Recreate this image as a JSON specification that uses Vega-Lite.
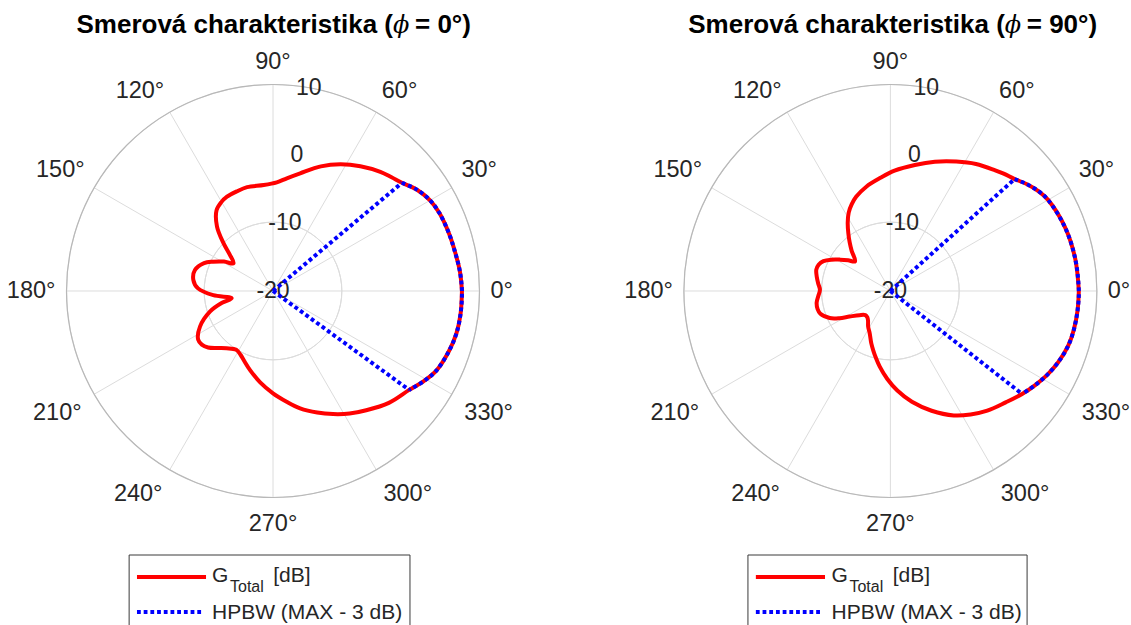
{
  "$schema": "https://vega.github.io/schema/vega-lite/v6.json",
  "padding": 0,
  "spacing": 71.5,
  "bounds": "flush",
  "background": "white",
  "config": {"view": {"stroke": null}, "font": "Liberation Sans"},
  "datasets": {
    "g0": [
      {"a":0,"g":7.45},{"a":6,"g":7.3},{"a":12,"g":7.05},{"a":18,"g":6.9},{"a":25,"g":6.7},{"a":30,"g":6.35},{"a":35,"g":5.6},{"a":40,"g":4.45},{"a":44,"g":3.85},{"a":48,"g":3.3},{"a":55,"g":2.13},{"a":62,"g":0.86},{"a":69,"g":-0.6},{"a":77,"g":-2.45},{"a":83,"g":-3.5},{"a":88,"g":-4.2},{"a":95,"g":-4.55},{"a":104,"g":-4.45},{"a":110,"g":-4.6},{"a":116,"g":-4.75},{"a":120,"g":-5.05},{"a":125,"g":-5.7},{"a":131,"g":-7.6},{"a":136,"g":-10.0},{"a":140,"g":-11.8},{"a":145,"g":-13.0},{"a":149,"g":-11.7},{"a":154,"g":-10.3},{"a":158,"g":-9.2},{"a":165,"g":-8.26},{"a":172,"g":-8.31},{"a":178,"g":-9.1},{"a":184,"g":-11.3},{"a":190,"g":-13.9},{"a":193,"g":-12.4},{"a":198,"g":-10.4},{"a":206,"g":-8.2},{"a":213,"g":-7.03},{"a":217,"g":-7.05},{"a":221,"g":-7.5},{"a":226,"g":-8.5},{"a":231,"g":-9.3},{"a":238,"g":-9.93},{"a":243,"g":-9.6},{"a":247,"g":-9.1},{"a":254,"g":-8.0},{"a":262,"g":-6.6},{"a":270,"g":-5.14},{"a":277,"g":-3.8},{"a":283,"g":-2.5},{"a":290,"g":-1.2},{"a":296,"g":-0.1},{"a":302,"g":1.0},{"a":308,"g":2.0},{"a":316,"g":3.4},{"a":324,"g":4.45},{"a":329,"g":5.5},{"a":334,"g":6.4},{"a":341,"g":7.0},{"a":347,"g":7.35},{"a":353,"g":7.45},{"a":360,"g":7.45}
    ],
    "g90": [
      {"a":0,"g":7.39},{"a":10,"g":7.27},{"a":20,"g":7.02},{"a":30,"g":6.47},{"a":34,"g":5.95},{"a":38,"g":5.2},{"a":42,"g":4.3},{"a":46,"g":3.7},{"a":49,"g":3.23},{"a":56,"g":2.25},{"a":63,"g":1.1},{"a":71,"g":-0.14},{"a":79,"g":-1.35},{"a":88,"g":-2.51},{"a":95,"g":-3.5},{"a":103,"g":-4.45},{"a":110,"g":-5.44},{"a":114,"g":-6.2},{"a":118,"g":-7.1},{"a":122,"g":-8.3},{"a":126,"g":-9.6},{"a":130,"g":-10.8},{"a":134,"g":-11.9},{"a":140,"g":-13.3},{"a":144,"g":-12.4},{"a":148,"g":-11.4},{"a":152,"g":-10.3},{"a":156,"g":-9.35},{"a":160,"g":-8.9},{"a":164,"g":-8.8},{"a":169,"g":-9.1},{"a":174,"g":-9.45},{"a":179,"g":-9.76},{"a":184,"g":-9.5},{"a":189,"g":-9.15},{"a":194,"g":-9.1},{"a":198,"g":-9.3},{"a":204,"g":-10.35},{"a":208,"g":-11.6},{"a":212,"g":-13.0},{"a":218,"g":-14.3},{"a":224,"g":-14.95},{"a":229,"g":-14.9},{"a":233,"g":-14.6},{"a":238,"g":-13.9},{"a":244,"g":-13.15},{"a":250,"g":-11.9},{"a":254,"g":-11.0},{"a":258,"g":-10.0},{"a":262,"g":-8.9},{"a":268,"g":-7.2},{"a":274,"g":-5.5},{"a":281,"g":-3.6},{"a":289,"g":-1.6},{"a":297,"g":0.3},{"a":303,"g":1.4},{"a":309,"g":2.38},{"a":316,"g":3.3},{"a":322,"g":4.3},{"a":327,"g":5.1},{"a":332,"g":5.86},{"a":337,"g":6.5},{"a":343,"g":7.05},{"a":348,"g":7.25},{"a":354,"g":7.35},{"a":360,"g":7.39}
    ],
    "hb0": [
      {"a":40,"g":4.45},{"a":35,"g":5.6},{"a":30,"g":6.35},{"a":25,"g":6.7},{"a":18,"g":6.9},{"a":12,"g":7.05},{"a":6,"g":7.3},{"a":0,"g":7.45},{"a":-7,"g":7.45},{"a":-13,"g":7.35},{"a":-19,"g":7.0},{"a":-26,"g":6.4},{"a":-31,"g":5.5},{"a":-36,"g":4.45}
    ],
    "hb90": [
      {"a":42,"g":4.3},{"a":38,"g":5.2},{"a":34,"g":5.95},{"a":30,"g":6.47},{"a":20,"g":7.02},{"a":10,"g":7.27},{"a":0,"g":7.39},{"a":-6,"g":7.35},{"a":-12,"g":7.25},{"a":-17,"g":7.05},{"a":-23,"g":6.5},{"a":-28,"g":5.86},{"a":-33,"g":5.1},{"a":-38,"g":4.3}
    ],
    "he0": [{"a":40,"g":4.45},{"a":-36,"g":4.45}],
    "he90": [{"a":42,"g":4.3},{"a":-38,"g":4.3}],
    "spokes": [{"a":0},{"a":30},{"a":60},{"a":90},{"a":120},{"a":150},{"a":180},{"a":210},{"a":240},{"a":270},{"a":300},{"a":330}],
    "alab": [{"a":0,"t":"0°"},{"a":30,"t":"30°"},{"a":60,"t":"60°"},{"a":90,"t":"90°"},{"a":120,"t":"120°"},{"a":150,"t":"150°"},{"a":180,"t":"180°"},{"a":210,"t":"210°"},{"a":240,"t":"240°"},{"a":270,"t":"270°"},{"a":300,"t":"300°"},{"a":330,"t":"330°"}],
    "rlab": [{"g":-20},{"g":-10},{"g":0},{"g":10}],
    "one": [{}]
  },
  "hconcat": [
    {
      "width": 546,
      "height": 625,
      "layer": [
        {"data": {"values": [{"r":10},{"r":20}]},
         "mark": {"type":"arc","filled":false,"stroke":"#dcdcdc","strokeWidth":1,"theta":0,"theta2":6.2832},
         "encoding": {
           "x": {"datum":0,"type":"quantitative","scale":{"domain":[-39.66,39.66],"nice":false,"zero":false},"axis":null},
           "y": {"datum":0,"type":"quantitative","scale":{"domain":[-48.53,42.28],"nice":false,"zero":false},"axis":null},
           "radius": {"field":"r","type":"quantitative","scale":{"type":"linear","domain":[0,30],"range":[0,206.5],"zero":true}}
         }},
        {"data": {"name":"spokes"},
         "transform": [{"calculate":"0","as":"x0"},{"calculate":"0","as":"y0"},{"calculate":"30*cos(datum.a*PI/180)","as":"x2"},{"calculate":"30*sin(datum.a*PI/180)","as":"y2"}],
         "mark": {"type":"rule","color":"#dcdcdc","strokeWidth":1},
         "encoding": {
           "x": {"field":"x0","type":"quantitative","scale":{"domain":[-39.66,39.66],"nice":false,"zero":false},"axis":null},
           "y": {"field":"y0","type":"quantitative","scale":{"domain":[-48.53,42.28],"nice":false,"zero":false},"axis":null},
           "x2": {"field":"x2"},
           "y2": {"field":"y2"}
         }},
        {"data": {"values": [{"r":30}]},
         "mark": {"type":"arc","filled":false,"stroke":"#b8b8b8","strokeWidth":1.2,"theta":0,"theta2":6.2832},
         "encoding": {
           "x": {"datum":0,"type":"quantitative","scale":{"domain":[-39.66,39.66],"nice":false,"zero":false},"axis":null},
           "y": {"datum":0,"type":"quantitative","scale":{"domain":[-48.53,42.28],"nice":false,"zero":false},"axis":null},
           "radius": {"field":"r","type":"quantitative","scale":{"type":"linear","domain":[0,30],"range":[0,206.5],"zero":true}}
         }},
        {"data": {"name":"alab"},
         "transform": [{"calculate":"(sin(datum.a*PI/180) < -0.2 ? 32.1 : 31.6)","as":"lr"},{"calculate":"datum.lr*cos(datum.a*PI/180)","as":"x"},{"calculate":"datum.lr*sin(datum.a*PI/180)","as":"y"}],
         "mark": {"type":"text","fontSize":23.5,"color":"#262626",
                  "align":{"expr":"cos(datum.a*PI/180) > 0.2 ? 'left' : (cos(datum.a*PI/180) < -0.2 ? 'right' : 'center')"},
                  "baseline":{"expr":"sin(datum.a*PI/180) > 0.2 ? 'bottom' : (sin(datum.a*PI/180) < -0.2 ? 'top' : 'middle')"}},
         "encoding": {
           "x": {"field":"x","type":"quantitative","scale":{"domain":[-39.66,39.66],"nice":false,"zero":false},"axis":null},
           "y": {"field":"y","type":"quantitative","scale":{"domain":[-48.53,42.28],"nice":false,"zero":false},"axis":null},
           "text": {"field":"t"}
         }},
        {"data": {"name":"rlab"},
         "transform": [{"calculate":"(datum.g+20)*cos(80*PI/180)","as":"x"},{"calculate":"(datum.g+20)*sin(80*PI/180)","as":"y"}],
         "mark": {"type":"text","fontSize":23,"color":"#262626","align":"center","baseline":"middle"},
         "encoding": {
           "x": {"field":"x","type":"quantitative","scale":{"domain":[-39.66,39.66],"nice":false,"zero":false},"axis":null},
           "y": {"field":"y","type":"quantitative","scale":{"domain":[-48.53,42.28],"nice":false,"zero":false},"axis":null},
           "text": {"field":"g"}
         }},
        {"data": {"name":"g0"},
         "transform": [{"calculate":"(datum.g+20)*cos(datum.a*PI/180)","as":"x"},{"calculate":"(datum.g+20)*sin(datum.a*PI/180)","as":"y"}],
         "mark": {"type":"line","interpolate":"catmull-rom","color":"#ff0000","strokeWidth":4},
         "encoding": {
           "x": {"field":"x","type":"quantitative","scale":{"domain":[-39.66,39.66],"nice":false,"zero":false},"axis":null},
           "y": {"field":"y","type":"quantitative","scale":{"domain":[-48.53,42.28],"nice":false,"zero":false},"axis":null},
           "order": {"field":"a","type":"quantitative"}
         }},
        {"data": {"name":"hb0"},
         "transform": [{"calculate":"(datum.g+20)*cos(datum.a*PI/180)","as":"x"},{"calculate":"(datum.g+20)*sin(datum.a*PI/180)","as":"y"}],
         "mark": {"type":"line","interpolate":"catmull-rom","color":"#0000ff","strokeWidth":4,"strokeDash":[3.8,2.9]},
         "encoding": {
           "x": {"field":"x","type":"quantitative","scale":{"domain":[-39.66,39.66],"nice":false,"zero":false},"axis":null},
           "y": {"field":"y","type":"quantitative","scale":{"domain":[-48.53,42.28],"nice":false,"zero":false},"axis":null},
           "order": {"field":"a","type":"quantitative","sort":"descending"}
         }},
        {"data": {"name":"he0"},
         "transform": [{"calculate":"0","as":"x0"},{"calculate":"0","as":"y0"},{"calculate":"(datum.g+20)*cos(datum.a*PI/180)","as":"x2"},{"calculate":"(datum.g+20)*sin(datum.a*PI/180)","as":"y2"}],
         "mark": {"type":"rule","color":"#0000ff","strokeWidth":4,"strokeDash":[3.8,2.9]},
         "encoding": {
           "x": {"field":"x0","type":"quantitative","scale":{"domain":[-39.66,39.66],"nice":false,"zero":false},"axis":null},
           "y": {"field":"y0","type":"quantitative","scale":{"domain":[-48.53,42.28],"nice":false,"zero":false},"axis":null},
           "x2": {"field":"x2"},
           "y2": {"field":"y2"}
         }},
        {"data": {"name":"one"},
         "transform": [{"calculate":"-20.9","as":"lx"},{"calculate":"19.9","as":"lx2"},{"calculate":"-38.36","as":"ly"},{"calculate":"-48.53","as":"ly2"}],
         "mark": {"type":"rect","fill":"white","strokeWidth":0},
         "encoding": {
           "x": {"field":"lx","type":"quantitative","scale":{"domain":[-39.66,39.66],"nice":false,"zero":false},"axis":null},
           "x2": {"field":"lx2"},
           "y": {"field":"ly","type":"quantitative","scale":{"domain":[-48.53,42.28],"nice":false,"zero":false},"axis":null},
           "y2": {"field":"ly2"}
         }},
        {"data": {"name":"one"},
         "transform": [{"calculate":"-20.9","as":"lx"},{"calculate":"19.9","as":"lx2"},{"calculate":"-38.36","as":"ly"}],
         "mark": {"type":"rule","color":"#3a3a3a","strokeWidth":1},
         "encoding": {
           "x": {"field":"lx","type":"quantitative","scale":{"domain":[-39.66,39.66],"nice":false,"zero":false},"axis":null},
           "x2": {"field":"lx2"},
           "y": {"field":"ly","type":"quantitative","scale":{"domain":[-48.53,42.28],"nice":false,"zero":false},"axis":null}
         }},
        {"data": {"name":"one"},
         "transform": [{"calculate":"-20.9","as":"lx"},{"calculate":"-38.36","as":"ly"},{"calculate":"-48.53","as":"ly2"}],
         "mark": {"type":"rule","color":"#3a3a3a","strokeWidth":1},
         "encoding": {
           "x": {"field":"lx","type":"quantitative","scale":{"domain":[-39.66,39.66],"nice":false,"zero":false},"axis":null},
           "y": {"field":"ly","type":"quantitative","scale":{"domain":[-48.53,42.28],"nice":false,"zero":false},"axis":null},
           "y2": {"field":"ly2"}
         }},
        {"data": {"name":"one"},
         "transform": [{"calculate":"19.9","as":"lx"},{"calculate":"-38.36","as":"ly"},{"calculate":"-48.53","as":"ly2"}],
         "mark": {"type":"rule","color":"#3a3a3a","strokeWidth":1},
         "encoding": {
           "x": {"field":"lx","type":"quantitative","scale":{"domain":[-39.66,39.66],"nice":false,"zero":false},"axis":null},
           "y": {"field":"ly","type":"quantitative","scale":{"domain":[-48.53,42.28],"nice":false,"zero":false},"axis":null},
           "y2": {"field":"ly2"}
         }},
        {"data": {"name":"one"},
         "transform": [{"calculate":"-19.76","as":"lx"},{"calculate":"-9.73","as":"lx2"},{"calculate":"-41.55","as":"ly"}],
         "mark": {"type":"rule","color":"#ff0000","strokeWidth":4},
         "encoding": {
           "x": {"field":"lx","type":"quantitative","scale":{"domain":[-39.66,39.66],"nice":false,"zero":false},"axis":null},
           "x2": {"field":"lx2"},
           "y": {"field":"ly","type":"quantitative","scale":{"domain":[-48.53,42.28],"nice":false,"zero":false},"axis":null}
         }},
        {"data": {"name":"one"},
         "transform": [{"calculate":"-19.76","as":"lx"},{"calculate":"-10.17","as":"lx2"},{"calculate":"-46.64","as":"ly"}],
         "mark": {"type":"rule","color":"#0000ff","strokeWidth":4,"strokeDash":[3.8,2.9]},
         "encoding": {
           "x": {"field":"lx","type":"quantitative","scale":{"domain":[-39.66,39.66],"nice":false,"zero":false},"axis":null},
           "x2": {"field":"lx2"},
           "y": {"field":"ly","type":"quantitative","scale":{"domain":[-48.53,42.28],"nice":false,"zero":false},"axis":null}
         }},
        {"data": {"name":"one"},
         "mark": {"type":"text","text":"G","fontSize":21,"color":"#262626","align":"left","baseline":"alphabetic"},
         "encoding": {
           "x": {"datum":-8.86,"type":"quantitative","scale":{"domain":[-39.66,39.66],"nice":false,"zero":false},"axis":null},
           "y": {"datum":-42.28,"type":"quantitative","scale":{"domain":[-48.53,42.28],"nice":false,"zero":false},"axis":null}
         }},
        {"data": {"name":"one"},
         "mark": {"type":"text","text":"Total","fontSize":16,"color":"#262626","align":"left","baseline":"alphabetic"},
         "encoding": {
           "x": {"datum":-6.25,"type":"quantitative","scale":{"domain":[-39.66,39.66],"nice":false,"zero":false},"axis":null},
           "y": {"datum":-43.73,"type":"quantitative","scale":{"domain":[-48.53,42.28],"nice":false,"zero":false},"axis":null}
         }},
        {"data": {"name":"one"},
         "mark": {"type":"text","text":"[dB]","fontSize":21,"color":"#262626","align":"left","baseline":"alphabetic"},
         "encoding": {
           "x": {"datum":0.04,"type":"quantitative","scale":{"domain":[-39.66,39.66],"nice":false,"zero":false},"axis":null},
           "y": {"datum":-42.28,"type":"quantitative","scale":{"domain":[-48.53,42.28],"nice":false,"zero":false},"axis":null}
         }},
        {"data": {"name":"one"},
         "mark": {"type":"text","text":"HPBW (MAX - 3 dB)","fontSize":21,"color":"#262626","align":"left","baseline":"alphabetic"},
         "encoding": {
           "x": {"datum":-8.86,"type":"quantitative","scale":{"domain":[-39.66,39.66],"nice":false,"zero":false},"axis":null},
           "y": {"datum":-47.65,"type":"quantitative","scale":{"domain":[-48.53,42.28],"nice":false,"zero":false},"axis":null}
         }},
        {"data": {"name":"one"},
         "mark": {"type":"text","text":"Smerová charakteristika (","fontSize":26,"fontWeight":"bold","color":"black","align":"right","baseline":"alphabetic"},
         "encoding": {
           "x": {"datum":17.43,"type":"quantitative","scale":{"domain":[-39.66,39.66],"nice":false,"zero":false},"axis":null},
           "y": {"datum":37.48,"type":"quantitative","scale":{"domain":[-48.53,42.28],"nice":false,"zero":false},"axis":null}
         }},
        {"data": {"name":"one"},
         "mark": {"type":"text","text":"ϕ","font":"DejaVu Serif","fontStyle":"italic","fontSize":24,"color":"black","align":"left","baseline":"alphabetic"},
         "encoding": {
           "x": {"datum":17.43,"type":"quantitative","scale":{"domain":[-39.66,39.66],"nice":false,"zero":false},"axis":null},
           "y": {"datum":37.48,"type":"quantitative","scale":{"domain":[-48.53,42.28],"nice":false,"zero":false},"axis":null}
         }},
        {"data": {"name":"one"},
         "mark": {"type":"text","text":"= 0°)","fontSize":26,"fontWeight":"bold","color":"black","align":"left","baseline":"alphabetic"},
         "encoding": {
           "x": {"datum":20.63,"type":"quantitative","scale":{"domain":[-39.66,39.66],"nice":false,"zero":false},"axis":null},
           "y": {"datum":37.48,"type":"quantitative","scale":{"domain":[-48.53,42.28],"nice":false,"zero":false},"axis":null}
         }}
      ]
    },
    {
      "width": 513,
      "height": 625,
      "layer": [
        {"data": {"values": [{"r":10},{"r":20}]},
         "mark": {"type":"arc","filled":false,"stroke":"#dcdcdc","strokeWidth":1,"theta":0,"theta2":6.2832},
         "encoding": {
           "x": {"datum":0,"type":"quantitative","scale":{"domain":[-39.66,34.9],"nice":false,"zero":false},"axis":null},
           "y": {"datum":0,"type":"quantitative","scale":{"domain":[-48.53,42.28],"nice":false,"zero":false},"axis":null},
           "radius": {"field":"r","type":"quantitative","scale":{"type":"linear","domain":[0,30],"range":[0,206.5],"zero":true}}
         }},
        {"data": {"name":"spokes"},
         "transform": [{"calculate":"0","as":"x0"},{"calculate":"0","as":"y0"},{"calculate":"30*cos(datum.a*PI/180)","as":"x2"},{"calculate":"30*sin(datum.a*PI/180)","as":"y2"}],
         "mark": {"type":"rule","color":"#dcdcdc","strokeWidth":1},
         "encoding": {
           "x": {"field":"x0","type":"quantitative","scale":{"domain":[-39.66,34.9],"nice":false,"zero":false},"axis":null},
           "y": {"field":"y0","type":"quantitative","scale":{"domain":[-48.53,42.28],"nice":false,"zero":false},"axis":null},
           "x2": {"field":"x2"},
           "y2": {"field":"y2"}
         }},
        {"data": {"values": [{"r":30}]},
         "mark": {"type":"arc","filled":false,"stroke":"#b8b8b8","strokeWidth":1.2,"theta":0,"theta2":6.2832},
         "encoding": {
           "x": {"datum":0,"type":"quantitative","scale":{"domain":[-39.66,34.9],"nice":false,"zero":false},"axis":null},
           "y": {"datum":0,"type":"quantitative","scale":{"domain":[-48.53,42.28],"nice":false,"zero":false},"axis":null},
           "radius": {"field":"r","type":"quantitative","scale":{"type":"linear","domain":[0,30],"range":[0,206.5],"zero":true}}
         }},
        {"data": {"name":"alab"},
         "transform": [{"calculate":"(sin(datum.a*PI/180) < -0.2 ? 32.1 : 31.6)","as":"lr"},{"calculate":"datum.lr*cos(datum.a*PI/180)","as":"x"},{"calculate":"datum.lr*sin(datum.a*PI/180)","as":"y"}],
         "mark": {"type":"text","fontSize":23.5,"color":"#262626",
                  "align":{"expr":"cos(datum.a*PI/180) > 0.2 ? 'left' : (cos(datum.a*PI/180) < -0.2 ? 'right' : 'center')"},
                  "baseline":{"expr":"sin(datum.a*PI/180) > 0.2 ? 'bottom' : (sin(datum.a*PI/180) < -0.2 ? 'top' : 'middle')"}},
         "encoding": {
           "x": {"field":"x","type":"quantitative","scale":{"domain":[-39.66,34.9],"nice":false,"zero":false},"axis":null},
           "y": {"field":"y","type":"quantitative","scale":{"domain":[-48.53,42.28],"nice":false,"zero":false},"axis":null},
           "text": {"field":"t"}
         }},
        {"data": {"name":"rlab"},
         "transform": [{"calculate":"(datum.g+20)*cos(80*PI/180)","as":"x"},{"calculate":"(datum.g+20)*sin(80*PI/180)","as":"y"}],
         "mark": {"type":"text","fontSize":23,"color":"#262626","align":"center","baseline":"middle"},
         "encoding": {
           "x": {"field":"x","type":"quantitative","scale":{"domain":[-39.66,34.9],"nice":false,"zero":false},"axis":null},
           "y": {"field":"y","type":"quantitative","scale":{"domain":[-48.53,42.28],"nice":false,"zero":false},"axis":null},
           "text": {"field":"g"}
         }},
        {"data": {"name":"g90"},
         "transform": [{"calculate":"(datum.g+20)*cos(datum.a*PI/180)","as":"x"},{"calculate":"(datum.g+20)*sin(datum.a*PI/180)","as":"y"}],
         "mark": {"type":"line","interpolate":"catmull-rom","color":"#ff0000","strokeWidth":4},
         "encoding": {
           "x": {"field":"x","type":"quantitative","scale":{"domain":[-39.66,34.9],"nice":false,"zero":false},"axis":null},
           "y": {"field":"y","type":"quantitative","scale":{"domain":[-48.53,42.28],"nice":false,"zero":false},"axis":null},
           "order": {"field":"a","type":"quantitative"}
         }},
        {"data": {"name":"hb90"},
         "transform": [{"calculate":"(datum.g+20)*cos(datum.a*PI/180)","as":"x"},{"calculate":"(datum.g+20)*sin(datum.a*PI/180)","as":"y"}],
         "mark": {"type":"line","interpolate":"catmull-rom","color":"#0000ff","strokeWidth":4,"strokeDash":[3.8,2.9]},
         "encoding": {
           "x": {"field":"x","type":"quantitative","scale":{"domain":[-39.66,34.9],"nice":false,"zero":false},"axis":null},
           "y": {"field":"y","type":"quantitative","scale":{"domain":[-48.53,42.28],"nice":false,"zero":false},"axis":null},
           "order": {"field":"a","type":"quantitative","sort":"descending"}
         }},
        {"data": {"name":"he90"},
         "transform": [{"calculate":"0","as":"x0"},{"calculate":"0","as":"y0"},{"calculate":"(datum.g+20)*cos(datum.a*PI/180)","as":"x2"},{"calculate":"(datum.g+20)*sin(datum.a*PI/180)","as":"y2"}],
         "mark": {"type":"rule","color":"#0000ff","strokeWidth":4,"strokeDash":[3.8,2.9]},
         "encoding": {
           "x": {"field":"x0","type":"quantitative","scale":{"domain":[-39.66,34.9],"nice":false,"zero":false},"axis":null},
           "y": {"field":"y0","type":"quantitative","scale":{"domain":[-48.53,42.28],"nice":false,"zero":false},"axis":null},
           "x2": {"field":"x2"},
           "y2": {"field":"y2"}
         }},
        {"data": {"name":"one"},
         "transform": [{"calculate":"-20.7","as":"lx"},{"calculate":"19.87","as":"lx2"},{"calculate":"-38.36","as":"ly"},{"calculate":"-48.53","as":"ly2"}],
         "mark": {"type":"rect","fill":"white","strokeWidth":0},
         "encoding": {
           "x": {"field":"lx","type":"quantitative","scale":{"domain":[-39.66,34.9],"nice":false,"zero":false},"axis":null},
           "x2": {"field":"lx2"},
           "y": {"field":"ly","type":"quantitative","scale":{"domain":[-48.53,42.28],"nice":false,"zero":false},"axis":null},
           "y2": {"field":"ly2"}
         }},
        {"data": {"name":"one"},
         "transform": [{"calculate":"-20.7","as":"lx"},{"calculate":"19.87","as":"lx2"},{"calculate":"-38.36","as":"ly"}],
         "mark": {"type":"rule","color":"#3a3a3a","strokeWidth":1},
         "encoding": {
           "x": {"field":"lx","type":"quantitative","scale":{"domain":[-39.66,34.9],"nice":false,"zero":false},"axis":null},
           "x2": {"field":"lx2"},
           "y": {"field":"ly","type":"quantitative","scale":{"domain":[-48.53,42.28],"nice":false,"zero":false},"axis":null}
         }},
        {"data": {"name":"one"},
         "transform": [{"calculate":"-20.7","as":"lx"},{"calculate":"-38.36","as":"ly"},{"calculate":"-48.53","as":"ly2"}],
         "mark": {"type":"rule","color":"#3a3a3a","strokeWidth":1},
         "encoding": {
           "x": {"field":"lx","type":"quantitative","scale":{"domain":[-39.66,34.9],"nice":false,"zero":false},"axis":null},
           "y": {"field":"ly","type":"quantitative","scale":{"domain":[-48.53,42.28],"nice":false,"zero":false},"axis":null},
           "y2": {"field":"ly2"}
         }},
        {"data": {"name":"one"},
         "transform": [{"calculate":"19.87","as":"lx"},{"calculate":"-38.36","as":"ly"},{"calculate":"-48.53","as":"ly2"}],
         "mark": {"type":"rule","color":"#3a3a3a","strokeWidth":1},
         "encoding": {
           "x": {"field":"lx","type":"quantitative","scale":{"domain":[-39.66,34.9],"nice":false,"zero":false},"axis":null},
           "y": {"field":"ly","type":"quantitative","scale":{"domain":[-48.53,42.28],"nice":false,"zero":false},"axis":null},
           "y2": {"field":"ly2"}
         }},
        {"data": {"name":"one"},
         "transform": [{"calculate":"-19.55","as":"lx"},{"calculate":"-9.5","as":"lx2"},{"calculate":"-41.55","as":"ly"}],
         "mark": {"type":"rule","color":"#ff0000","strokeWidth":4},
         "encoding": {
           "x": {"field":"lx","type":"quantitative","scale":{"domain":[-39.66,34.9],"nice":false,"zero":false},"axis":null},
           "x2": {"field":"lx2"},
           "y": {"field":"ly","type":"quantitative","scale":{"domain":[-48.53,42.28],"nice":false,"zero":false},"axis":null}
         }},
        {"data": {"name":"one"},
         "transform": [{"calculate":"-19.55","as":"lx"},{"calculate":"-9.95","as":"lx2"},{"calculate":"-46.64","as":"ly"}],
         "mark": {"type":"rule","color":"#0000ff","strokeWidth":4,"strokeDash":[3.8,2.9]},
         "encoding": {
           "x": {"field":"lx","type":"quantitative","scale":{"domain":[-39.66,34.9],"nice":false,"zero":false},"axis":null},
           "x2": {"field":"lx2"},
           "y": {"field":"ly","type":"quantitative","scale":{"domain":[-48.53,42.28],"nice":false,"zero":false},"axis":null}
         }},
        {"data": {"name":"one"},
         "mark": {"type":"text","text":"G","fontSize":21,"color":"#262626","align":"left","baseline":"alphabetic"},
         "encoding": {
           "x": {"datum":-8.55,"type":"quantitative","scale":{"domain":[-39.66,34.9],"nice":false,"zero":false},"axis":null},
           "y": {"datum":-42.28,"type":"quantitative","scale":{"domain":[-48.53,42.28],"nice":false,"zero":false},"axis":null}
         }},
        {"data": {"name":"one"},
         "mark": {"type":"text","text":"Total","fontSize":16,"color":"#262626","align":"left","baseline":"alphabetic"},
         "encoding": {
           "x": {"datum":-5.95,"type":"quantitative","scale":{"domain":[-39.66,34.9],"nice":false,"zero":false},"axis":null},
           "y": {"datum":-43.73,"type":"quantitative","scale":{"domain":[-48.53,42.28],"nice":false,"zero":false},"axis":null}
         }},
        {"data": {"name":"one"},
         "mark": {"type":"text","text":"[dB]","fontSize":21,"color":"#262626","align":"left","baseline":"alphabetic"},
         "encoding": {
           "x": {"datum":0.35,"type":"quantitative","scale":{"domain":[-39.66,34.9],"nice":false,"zero":false},"axis":null},
           "y": {"datum":-42.28,"type":"quantitative","scale":{"domain":[-48.53,42.28],"nice":false,"zero":false},"axis":null}
         }},
        {"data": {"name":"one"},
         "mark": {"type":"text","text":"HPBW (MAX - 3 dB)","fontSize":21,"color":"#262626","align":"left","baseline":"alphabetic"},
         "encoding": {
           "x": {"datum":-8.55,"type":"quantitative","scale":{"domain":[-39.66,34.9],"nice":false,"zero":false},"axis":null},
           "y": {"datum":-47.65,"type":"quantitative","scale":{"domain":[-48.53,42.28],"nice":false,"zero":false},"axis":null}
         }},
        {"data": {"name":"one"},
         "mark": {"type":"text","text":"Smerová charakteristika (","fontSize":26,"fontWeight":"bold","color":"black","align":"right","baseline":"alphabetic"},
         "encoding": {
           "x": {"datum":16.63,"type":"quantitative","scale":{"domain":[-39.66,34.9],"nice":false,"zero":false},"axis":null},
           "y": {"datum":37.48,"type":"quantitative","scale":{"domain":[-48.53,42.28],"nice":false,"zero":false},"axis":null}
         }},
        {"data": {"name":"one"},
         "mark": {"type":"text","text":"ϕ","font":"DejaVu Serif","fontStyle":"italic","fontSize":24,"color":"black","align":"left","baseline":"alphabetic"},
         "encoding": {
           "x": {"datum":16.63,"type":"quantitative","scale":{"domain":[-39.66,34.9],"nice":false,"zero":false},"axis":null},
           "y": {"datum":37.48,"type":"quantitative","scale":{"domain":[-48.53,42.28],"nice":false,"zero":false},"axis":null}
         }},
        {"data": {"name":"one"},
         "mark": {"type":"text","text":"= 90°)","fontSize":26,"fontWeight":"bold","color":"black","align":"left","baseline":"alphabetic"},
         "encoding": {
           "x": {"datum":19.82,"type":"quantitative","scale":{"domain":[-39.66,34.9],"nice":false,"zero":false},"axis":null},
           "y": {"datum":37.48,"type":"quantitative","scale":{"domain":[-48.53,42.28],"nice":false,"zero":false},"axis":null}
         }}
      ]
    }
  ]
}
